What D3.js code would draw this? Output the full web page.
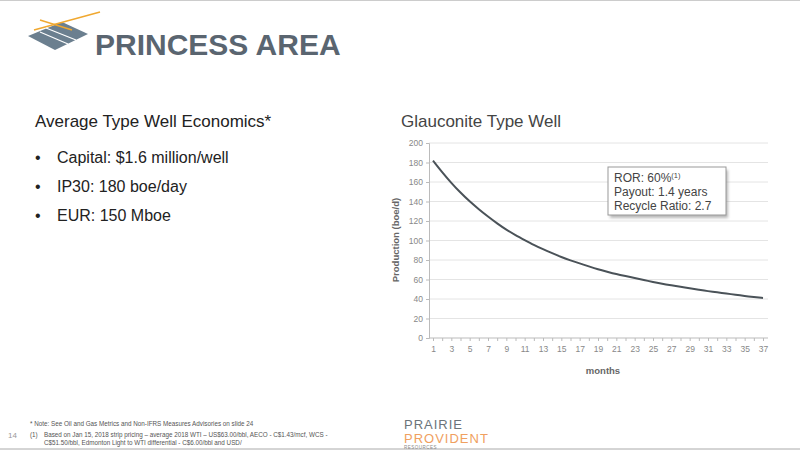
<!DOCTYPE html><html><head><meta charset="utf-8"><script src="https://cdn.jsdelivr.net/npm/d3@7"></script>
<style>body{margin:0;background:#fff;font-family:Arial,"Liberation Sans",sans-serif}</style></head><body>
<svg id="c" width="800" height="450"></svg>
<script>
const months=d3.range(1,38);
const production=[182,170,159,149,140,132,124.5,117.5,111,105.5,100.5,95.5,91,87,83,79.5,76.5,73.5,70.5,68,65.5,63.5,61.5,59.5,57.5,55.5,54,52.5,51,49.5,48,47,45.5,44.5,43,42,41];
const yTicks=[0,20,40,60,80,100,120,140,160,180,200];
const bullets=["Capital: $1.6 million/well","IP30: 180 boe/day","EUR: 150 Mboe"];
const boxLines=["Payout: 1.4 years","Recycle Ratio: 2.7"];
const svg=d3.select("#c");
const defs=svg.append("defs");
defs.append("filter").attr("id","sh").append("feGaussianBlur").attr("stdDeviation",1.5);
svg.append("rect").attr("width",800).attr("height",450).attr("fill","#fff");
svg.append("line").attr("x1",0).attr("x2",800).attr("y1",0.5).attr("y2",0.5).attr("stroke","#ccc");
svg.append("line").attr("x1",0).attr("x2",800).attr("y1",449).attr("y2",449).attr("stroke","#aaa");
// logo
svg.append("path").attr("d","M28,36 L55,50 L88,34 L62,22 Z").attr("fill","#6b7f8f");
svg.append("path").attr("d","M34,30 L100,12").attr("stroke","#f0a830").attr("stroke-width",1.5);
svg.append("path").attr("d","M40,20 L72,30").attr("stroke","#f0a830").attr("stroke-width",1.5);
svg.append("path").attr("d","M40,32 L68,44 M46,28 L76,40").attr("stroke","#fff").attr("stroke-width",1.2);
svg.append("text").attr("x",95).attr("y",55).attr("font-size",30).attr("font-weight","bold").attr("fill","#5a6570").text("PRINCESS AREA");
svg.append("text").attr("x",35).attr("y",127).attr("font-size",17).attr("fill","#222").text("Average Type Well Economics*");
bullets.forEach((b,i)=>{
 svg.append("text").attr("x",35).attr("y",163+i*29).attr("font-size",16).attr("fill","#222").text("•");
 svg.append("text").attr("x",57).attr("y",163+i*29).attr("font-size",16).attr("fill","#222").text(b);
});
svg.append("text").attr("x",401).attr("y",127).attr("font-size",17).attr("fill","#444").text("Glauconite Type Well");
const x=d3.scalePoint().domain(months).range([433,763]);
const y=d3.scaleLinear().domain([0,200]).range([338,143]);
const g=svg.append("g");
g.selectAll(".gl").data(yTicks.slice(1)).join("line").attr("x1",429).attr("x2",768).attr("y1",d=>y(d)).attr("y2",d=>y(d)).attr("stroke","#e4e4e4");
const ya=g.append("g").attr("transform","translate(429,0)").call(d3.axisLeft(y).tickValues(yTicks).tickSize(3));
ya.selectAll("text").attr("font-size",8.5).attr("fill","#888");
ya.selectAll("line,path").attr("stroke","#bbb");
const xa=g.append("g").attr("transform","translate(0,338)").call(d3.axisBottom(x).tickSize(3).tickFormat(d=>d%2?d:""));
xa.select("path").attr("d","M429,0H768");
xa.selectAll("text").attr("font-size",8.5).attr("fill","#888").attr("dy","0.9em");
xa.selectAll("line,path").attr("stroke","#bbb");
g.append("path").datum(production).attr("fill","none").attr("stroke","#4a5258").attr("stroke-width",2)
 .attr("d",d3.line().x((d,i)=>x(months[i])).y(d=>y(d)).curve(d3.curveBasis));
svg.append("text").attr("transform","translate(399,240) rotate(-90)").attr("text-anchor","middle").attr("font-size",9.5).attr("font-weight","bold").attr("fill","#666").text("Production (boe/d)");
svg.append("text").attr("x",603).attr("y",374).attr("text-anchor","middle").attr("font-size",9.5).attr("font-weight","bold").attr("fill","#666").text("months");
// box
svg.append("rect").attr("x",608).attr("y",167).attr("width",118).attr("height",48).attr("fill","#888").attr("opacity",0.6).attr("transform","translate(2,3)").attr("filter","url(#sh)");
svg.append("rect").attr("x",608).attr("y",167).attr("width",118).attr("height",48).attr("fill","#fff").attr("stroke","#999");
const t0=svg.append("text").attr("x",614).attr("y",182).attr("font-size",12).attr("fill","#444").text("ROR: 60%");
t0.append("tspan").attr("dy",-4).attr("font-size",7.5).text("(1)");
boxLines.forEach((s,i)=>svg.append("text").attr("x",614).attr("y",196+i*14).attr("font-size",12).attr("fill","#444").text(s));
// footer
svg.append("text").attr("x",30).attr("y",426).attr("font-size",6.3).attr("fill","#555").text("* Note: See Oil and Gas Metrics and Non-IFRS Measures Advisories on slide 24");
svg.append("text").attr("x",8).attr("y",438).attr("font-size",8).attr("fill","#999").text("14");
svg.append("text").attr("x",30).attr("y",437).attr("font-size",6.3).attr("fill","#555").text("(1)");
svg.append("text").attr("x",44).attr("y",437).attr("font-size",6.3).attr("fill","#555").text("Based on Jan 15, 2018 strip pricing – average 2018 WTI – US$63.00/bbl, AECO - C$1.43/mcf, WCS -");
svg.append("text").attr("x",44).attr("y",445).attr("font-size",6.3).attr("fill","#555").text("C$51.50/bbl, Edmonton Light to WTI differential - C$6.00/bbl and USD/");
svg.append("text").attr("x",404).attr("y",429).attr("font-size",13).attr("letter-spacing",1).attr("fill","#6b737a").text("PRAIRIE");
svg.append("text").attr("x",404).attr("y",443).attr("font-size",13).attr("letter-spacing",1).attr("fill","#f0a060").text("PROVIDENT");
svg.append("text").attr("x",404).attr("y",449).attr("font-size",4.5).attr("letter-spacing",0.5).attr("fill","#888").text("RESOURCES");
</script></body></html>
